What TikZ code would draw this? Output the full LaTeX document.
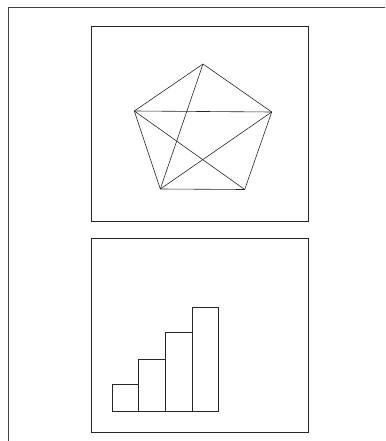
\documentclass[tikz,border=0pt]{standalone}
\begin{document}
\begin{tikzpicture}[x=1pt,y=-1pt,
  ln/.style={draw=black!85,line width=0.6pt},
  frame/.style={draw=black!75,line width=0.7pt}]
\useasboundingbox (0,0) rectangle (385,441);
% outer frame (top and left only)
\draw[frame] (385,7) -- (8,7) -- (8,441);
% top box
\draw[ln] (91,26) rectangle (308,221);
\coordinate (T) at (203,64);
\coordinate (L) at (134.3,111);
\coordinate (R) at (271.7,112);
\coordinate (BL) at (160.3,189);
\coordinate (BR) at (244.7,189.5);
\draw[ln,line join=round] (T) -- (R) -- (BR) -- (BL) -- (L) -- cycle;
\draw[ln] (L) -- (R);
\draw[ln] (T) -- (BL);
\draw[ln] (L) -- (BR);
\draw[ln] (R) -- (BL);
% bottom box
\draw[ln] (91,238) rectangle (308.5,432);
\draw[ln] (112,411.5) rectangle (138.7,384.5);
\draw[ln] (138.7,411.5) rectangle (165.3,359);
\draw[ln] (165.3,411.5) rectangle (192,332.7);
\draw[ln] (192,411.5) rectangle (218.7,307);
\end{tikzpicture}
\end{document}
